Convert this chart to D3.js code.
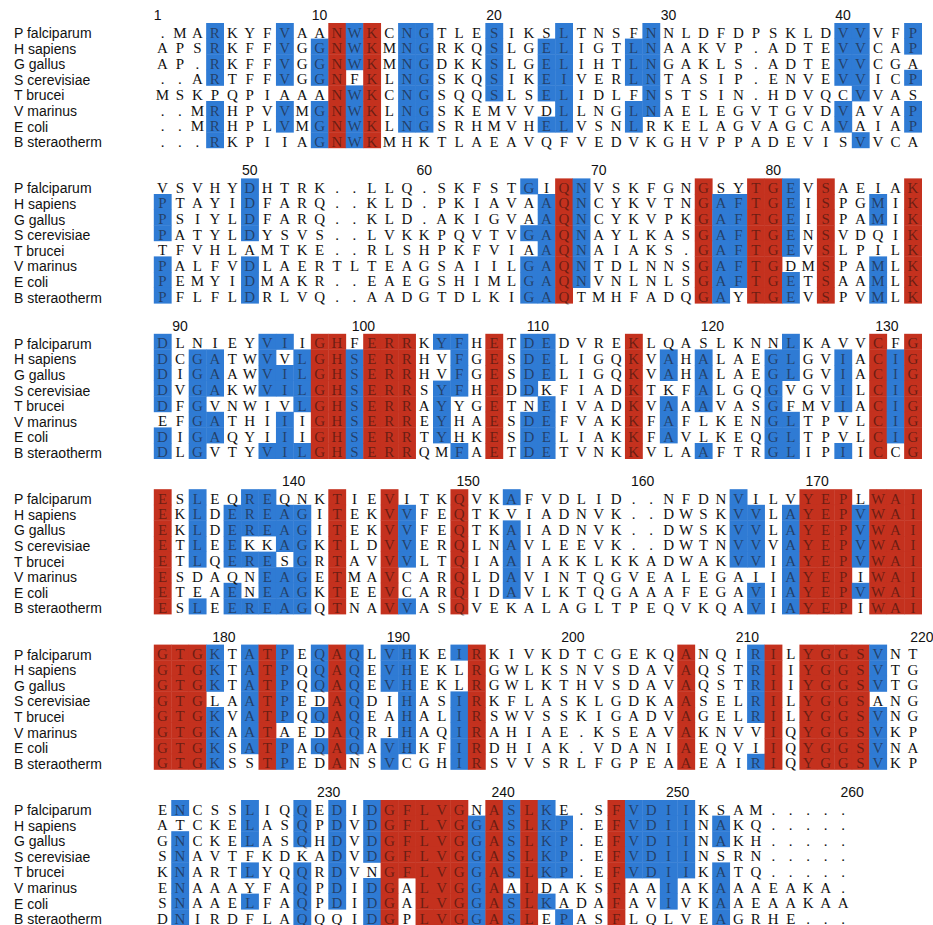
<!DOCTYPE html>
<html>
<head>
<meta charset="utf-8">
<script src="https://cdn.jsdelivr.net/npm/d3@7"></script>
<style>
  html, body { margin: 0; padding: 0; background: #ffffff; }
  svg { display: block; }
</style>
</head>
<body>
<script>
// Triosephosphate isomerase alignment, 44 columns per block, '.' = gap
const species = ["P falciparum", "H sapiens", "G gallus", "S cerevisiae",
                 "T brucei", "V marinus", "E coli", "B steraotherm"];

const pFalciparum = [
  ".MARKYFVAANWKCNGTLESIKSLTNSFNNLDFDPSKLDVVVFP",
  "VSVHYDHTRK..LLQ.SKFSTGIQNVSKFGNGSYTGEVSAEIAK",
  "DLNIEYVIIGHFERRKYFHETDEDVREKLQASLKNNLKAVVCFG",
  "ESLEQREQNKTIEVITKQVKAFVDLID..NFDNVILVYEPLWAI",
  "GTGKTATPEQAQLVHKEIRKIVKDTCGEKQANQIRILYGGSVNT",
  "ENCSSLIQQEDIDGFLVGNASLKE.SFVDIIKSAM....."
];
const hSapiens = [
  "APSRKFFVGGNWKMNGRKQSLGELIGTLNAAKVP.ADTEVVCAP",
  "PTAYIDFARQ..KLD.PKIAVAAQNCYKVTNGAFTGEISPGMIK",
  "DCGATWVVLGHSERRHVFGESDELIGQKVAHALAEGLGVIACIG",
  "EKLDEREAGITEKVVFEQTKVIADNVK..DWSKVVLAYEPVWAI",
  "GTGKTATPQQAQEVHEKLRGWLKSNVSDAVAQSTRIIYGGSVTG",
  "ATCKELASQPDVDGFLVGGASLKP.EFVDIINAKQ....."
];
const gGallus = [
  "AP.RKFFVGGNWKMNGDKKSLGELIHTLNGAKLS.ADTEVVCGA",
  "PSIYLDFARQ..KLD.AKIGVAAQNCYKVPKGAFTGEISPAMIK",
  "DIGAAWVILGHSERRHVFGESDELIGQKVAHALAEGLGVIACIG",
  "EKLDEREAGITEKVVFEQTKAIADNVK..DWSKVVLAYEPVWAI",
  "GTGKTATPQQAQEVHEKLRGWLKTHVSDAVAQSTRIIYGGSVTG",
  "GNCKELASQHDVDGFLVGGASLKP.EFVDIINAKH....."
];
const sCerevisiae = [
  "..ARTFFVGGNFKLNGSKQSIKEIVERLNTASIP.ENVEVVICP",
  "PATYLDYSVS..LVKKPQVTVGAQNAYLKASGAFTGENSVDQIK",
  "DVGAKWVILGHSERRSYFHEDDKFIADKTKFALGQGVGVILCIG",
  "ETLEEKKAGKTLDVVERQLNAVLEEVK..DWTNVVVAYEPVWAI",
  "GTGLAATPEDAQDIHASIRKFLASKLGDKAASELRILYGGSANG",
  "SNAVTFKDKADVDGFLVGGASLKP.EFVDIINSRN....."
];
const tBrucei = [
  "MSKPQPIAAANWKCNGSQQSLSELIDLFNSTSIN.HDVQCVVAS",
  "TFVHLAMTKE..RLSHPKFVIAAQNAIAKS.GAFTGEVSLPILK",
  "DFGVNWIVLGHSERRAYYGETNEIVADKVAAAVASGFMVIACIG",
  "ETLQERESGRTAVVVLTQIAAIAKKLKKADWAKVVIAYEPVWAI",
  "GTGKVATPQQAQEAHALIRSWVSSKIGADVAGELRILYGGSVNG",
  "KNARTLYQQRDVNGFLVGGASLKP.EFVDIIKATQ....."
];
const vMarinus = [
  "..MRHPVVMGNWKLNGSKEMVVDLLNGLNAELEGVTGVDVAVAP",
  "PALFVDLAERTLTEAGSAIILGAQNTDLNNSGAFTGDMSPAMLK",
  "EFGATHIIIGHSERREYHAESDEFVAKKFAFLKENGLTPVLCIG",
  "ESDAQNEAGETMAVCARQLDAVINTQGVEALEGAIIAYEPIWAI",
  "GTGKAATAEDAQRIHAQIRAHIAE.KSEAVAKNVVIQYGGSVKP",
  "ENAAAYFAQPDIDGALVGGAALDAKSFAAIAKAAAEAKA."
];
const eColi = [
  "..MRHPLVMGNWKLNGSRHMVHELVSNLRKELAGVAGCAVAIAP",
  "PEMYIDMAKR..EAEGSHIMLGAQNVNLNLSGAFTGETSAAMLK",
  "DIGAQYIIIGHSERRTYHKESDELIAKKFAVLKEQGLTPVLCIG",
  "ETEAENEAGKTEEVCARQIDAVLKTQGAAAFEGAVIAYEPVWAI",
  "GTGKSATPAQAQAVHKFIRDHIAK.VDANIAEQVIIQYGGSVNA",
  "SNAAELFAQPDIDGALVGGASLKADAFAVIVKAAEAAKAA"
];
const bStearo = [
  "...RKPIIAGNWKMHKTLAEAVQFVEDVKGHVPPADEVISVVCA",
  "PFLFLDRLVQ..AADGTDLKIGAQTMHFADQGAYTGEVSPVMLK",
  "DLGVTYVILGHSERRQMFAETDETVNKKVLAAFTRGLIPIICCG",
  "ESLEEREAGQTNAVVASQVEKALAGLTPEQVKQAVIAYEPIWAI",
  "GTGKSSTPEDANSVCGHIRSVVSRLFGPEAAEAIRIQYGGSVKP",
  "DNIRDFLAQQQIDGPLVGGASLEPASFLQLVEAGRHE..."
];

const tickPositions = [1, 10, 20, 30, 40, 50, 60, 70, 80, 90, 100, 110, 120, 130,
                       140, 150, 160, 170, 180, 190, 200, 210, 220, 230, 240, 250, 260];

// hand-set boxes that differ from the automatic shading (position, rows, shade)
const shadeOverrides = [
  { position: 24, rows: [3], shade: "blue" },
  { position: 235, rows: [0, 1, 2, 3, 4], shade: "red" }
];

const blockLength = 44;
const blockCount = 6;
const blueThreshold = 5;   // identical residues needed for blue shading

const W = 933, H = 925;
const red = "#c4311e", blue = "#2f7bd4";

const sequences = [pFalciparum, hSapiens, gGallus, sCerevisiae,
                   tBrucei, vMarinus, eColi, bStearo].map(b => b.join(""));

// per-column conservation: red = identical in every sequence, blue = majority residue
const nCols = blockLength * blockCount;
const shade = sequences.map(() => new Array(nCols).fill(null));
for (let c = 0; c < nCols; c++) {
  const counts = new Map();
  sequences.forEach(s => {
    const r = s[c];
    if (r && /[A-Z]/.test(r)) counts.set(r, (counts.get(r) || 0) + 1);
  });
  let top = null, best = 0, tie = false;
  counts.forEach((n, r) => {
    if (n > best) { best = n; top = r; tie = false; }
    else if (n === best) tie = true;
  });
  if (!top || tie) continue;
  sequences.forEach((s, i) => {
    if (s[c] !== top) return;
    if (best === sequences.length) shade[i][c] = "red";
    else if (best >= blueThreshold) shade[i][c] = "blue";
  });
}
shadeOverrides.forEach(o => o.rows.forEach(i => { shade[i][o.position - 1] = o.shade; }));

const svg = d3.select("body").append("svg")
  .attr("width", W).attr("height", H)
  .attr("viewBox", `0 0 ${W} ${H}`);

svg.append("rect").attr("width", W).attr("height", H).attr("fill", "#ffffff");

const x = d3.scaleBand().domain(d3.range(blockLength)).range([153.8, 921.6]);
const y = d3.scaleBand().domain(species).range([0, 124.8]);
const blockTop = d3.scaleLinear().domain([0, blockCount - 1]).range([23, 800]);

for (let b = 0; b < blockCount; b++) {
  const g = svg.append("g").attr("transform", `translate(0,${blockTop(b)})`);

  // column numbers
  const ticks = tickPositions.filter(p => p > b * blockLength && p <= (b + 1) * blockLength);
  g.selectAll("text.tick").data(ticks).join("text")
    .attr("class", "tick")
    .attr("x", p => {
      const cx = x((p - 1) % blockLength) + x.bandwidth() / 2;
      const len = String(p).length;
      return cx + (len === 1 ? -5 : len === 3 ? 9 : 0);
    })
    .attr("y", -3)
    .attr("text-anchor", "middle")
    .attr("font-family", "'Liberation Sans', Arial, sans-serif")
    .attr("font-size", 14)
    .attr("fill", "#111")
    .text(p => p);

  // species names
  g.selectAll("text.name").data(species).join("text")
    .attr("class", "name")
    .attr("x", 14)
    .attr("y", d => y(d) + 15)
    .attr("font-family", "'Liberation Sans', Arial, sans-serif")
    .attr("font-size", 14)
    .attr("fill", "#111")
    .text(d => d);

  // residue cells
  const cells = [];
  sequences.forEach((s, i) => {
    for (let k = 0; k < blockLength; k++) {
      const c = b * blockLength + k;
      if (c >= s.length) continue;
      cells.push({ sp: species[i], k, res: s[c], shade: shade[i][c] });
    }
  });

  g.selectAll("rect.cell").data(cells.filter(d => d.shade)).join("rect")
    .attr("class", "cell")
    .attr("x", d => x(d.k))
    .attr("y", d => y(d.sp))
    .attr("width", x.bandwidth() + 0.4)
    .attr("height", y.bandwidth() + 0.4)
    .attr("fill", d => d.shade === "red" ? red : blue);

  g.selectAll("text.res").data(cells).join("text")
    .attr("class", "res")
    .attr("x", d => x(d.k) + x.bandwidth() / 2)
    .attr("y", d => y(d.sp) + 14.5)
    .attr("text-anchor", "middle")
    .attr("font-family", "'Liberation Serif', 'Times New Roman', serif")
    .attr("font-size", 15)
    .attr("fill", d => d.shade ? "#1a0d0a" : "#111")
    .attr("fill-opacity", d => d.shade ? 0.55 : 1)
    .text(d => d.res);
}
</script>
</body>
</html>
